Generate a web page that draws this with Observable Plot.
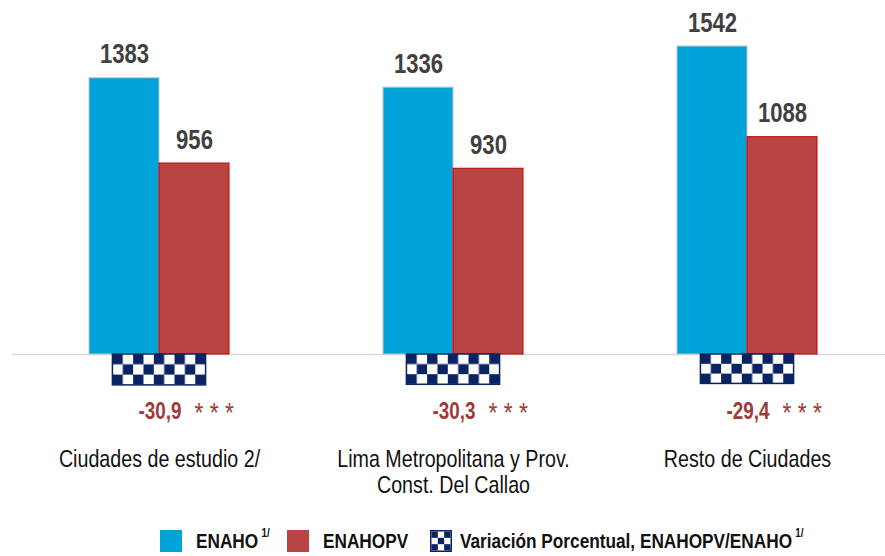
<!DOCTYPE html>
<html>
<head>
<meta charset="utf-8">
<script src="https://cdn.jsdelivr.net/npm/d3@7"></script>
<script src="https://cdn.jsdelivr.net/npm/@observablehq/plot@0.6"></script>
<style>
  body { margin: 0; background: #fff; }
  #wrap { width: 885px; height: 556px; font-family: "Liberation Sans", Arial, sans-serif; }
  #chart svg { display: block; }
  .legend { display: flex; align-items: center; height: 30px; padding-left: 160px; font-weight: bold; font-size: 21px; color: #111; white-space: nowrap; }
  .sw { width: 22px; height: 22px; display: inline-block; flex: none; }
  .lbl { display: inline-block; transform: scaleX(0.82); transform-origin: left center; margin-left: 14px; }
  .lbl sup { font-size: 12px; position: relative; top: -3px; margin-left: 4px; }
</style>
</head>
<body>
<div id="wrap">
  <div id="chart"></div>
  <div class="legend" id="legend"></div>
</div>
<script>
// ---- data ----
const categories = ["Ciudades de estudio 2/", "Lima Metropolitana y Prov.\nConst. Del Callao", "Resto de Ciudades"];
const seriesNames = ["ENAHO", "ENAHOPV"];
const enaho = [1383, 1336, 1542];
const enahopv = [956, 930, 1088];
const variation = [-30.9, -30.3, -29.4];
const significance = ["***", "***", "***"];
const legendLabels = ["ENAHO", "ENAHOPV", "Variación Porcentual, ENAHOPV/ENAHO"];
const legendNote = "1/";

// ---- derived tables ----
const rows = categories.flatMap((c, i) => [
  {category: c, series: seriesNames[0], value: enaho[i]},
  {category: c, series: seriesNames[1], value: enahopv[i]}
]);
const varRows = categories.map((c, i) => ({category: c, variation: variation[i], sig: significance[i]}));

// secondary axis (percent) expressed on the primary axis: primary units per percent point
const secondaryRatio = 1542 / 308;

const colors = ["#00a2da", "#b94444"];
const strokes = ["#c4c4c4", "#c00000"];
const navy = "#0a2463";
const narrow = 0.82; // emulate a condensed face

const fxRange = [11, 895.5];
const bandW = (fxRange[1] - fxRange[0]) / categories.length;
const barW = 70.5;
const padOuter = (bandW / barW - 2) / 2;
const checkerInset = (bandW - 94) / 2;

const fmtPct = v => v.toFixed(1).replace(".", ",");
const font = "Liberation Sans, Arial, sans-serif";

const chart = Plot.plot({
  width: 885,
  height: 526,
  marginTop: 0, marginRight: 0, marginBottom: 0, marginLeft: 0,
  style: {fontFamily: font, background: "#fff"},
  fx: {domain: categories, range: fxRange, padding: 0, axis: null},
  x: {domain: seriesNames, paddingInner: 0, paddingOuter: padOuter, axis: null},
  y: {domain: [0, 1542], range: [354, 46], axis: null},
  color: {domain: seriesNames, range: colors},
  marks: [
    Plot.ruleY([0], {stroke: "#d9d9d9", strokeWidth: 1.5}),
    Plot.barY(rows, {filter: d => d.series === seriesNames[0], fx: "category", x: "series", y: "value", fill: "series", stroke: strokes[0], strokeWidth: 1}),
    Plot.barY(rows, {filter: d => d.series === seriesNames[1], fx: "category", x: "series", y: "value", fill: "series", stroke: strokes[1], strokeWidth: 1}),
    Plot.text(rows, {fx: "category", x: "series", y: "value", text: d => String(d.value), lineAnchor: "bottom", dy: -15, fontSize: 27, fontWeight: "bold", fill: "#404040"}),
    Plot.barY(varRows, {fx: "category", y: d => d.variation * secondaryRatio, fill: "url(#checker)", stroke: navy, strokeWidth: 1.5, insetLeft: checkerInset, insetRight: checkerInset}),
    Plot.text(varRows, {fx: "category", y: 0, text: d => fmtPct(d.variation), textAnchor: "end", lineAnchor: "bottom", dx: 22, dy: 64, fontSize: 23, fontWeight: "bold", fill: "#9e3a3a"}),
    Plot.text(varRows, {fx: "category", y: 0, text: d => d.sig.split("").join(" "), textAnchor: "start", lineAnchor: "bottom", dx: 35, dy: 67, fontSize: 28, fill: "#9e3a3a"}),
    Plot.text(varRows, {fx: "category", y: 0, text: "category", lineAnchor: "top", lineHeight: 1.05, dy: 95, fontSize: 24, fill: "#111"})
  ]
});

d3.select(chart).insert("defs", ":first-child").html(`
  <pattern id="checker" patternUnits="objectBoundingBox" patternContentUnits="objectBoundingBox" width="${2/9}" height="${2/3}">
    <rect x="0" y="0" width="${2/9}" height="${2/3}" fill="#fff"/>
    <rect x="0" y="0" width="${1/9}" height="${1/3}" fill="${navy}"/>
    <rect x="${1/9}" y="${1/3}" width="${1/9}" height="${1/3}" fill="${navy}"/>
  </pattern>`);

// horizontally condense every text around its own anchor point
d3.select(chart).selectAll("text").each(function() {
  const t = d3.select(this);
  const tr = t.attr("transform");
  const x = t.attr("x"), y = t.attr("y");
  if (tr) {
    t.attr("transform", `${tr} scale(${narrow},1)`);
  } else {
    t.attr("x", null).attr("y", null)
     .attr("transform", `translate(${x || 0},${y || 0}) scale(${narrow},1)`);
  }
});

document.getElementById("chart").appendChild(chart);

// ---- legend ----
const legend = document.getElementById("legend");
const checkerIcon = `<svg class="sw" width="22" height="22" viewBox="0 0 22 22">
  <rect x="0.75" y="0.75" width="20.5" height="20.5" fill="#fff" stroke="${navy}" stroke-width="1.5"/>
  ${[0,1,2].flatMap(r => [0,1,2].filter(c => (r + c) % 2 === 0).map(c => `<rect x="${1.5 + c*6.33}" y="${1.5 + r*6.33}" width="6.33" height="6.33" fill="${navy}"/>`)).join("")}
</svg>`;
legend.innerHTML = `
  <span class="sw" style="background:${colors[0]}"></span><span class="lbl">${legendLabels[0]}<sup>${legendNote}</sup></span>
  <span class="sw" style="background:${colors[1]};margin-left:17px"></span><span class="lbl">${legendLabels[1]}</span>
  <span style="margin-left:22px;display:inline-flex">${checkerIcon}</span><span class="lbl" style="margin-left:8px">${legendLabels[2]}<sup>${legendNote}</sup></span>`;
legend.querySelectorAll(".lbl").forEach(el => {
  const w = el.getBoundingClientRect().width / narrow;
  el.style.marginRight = `${-w * (1 - narrow)}px`;
});
</script>
</body>
</html>
